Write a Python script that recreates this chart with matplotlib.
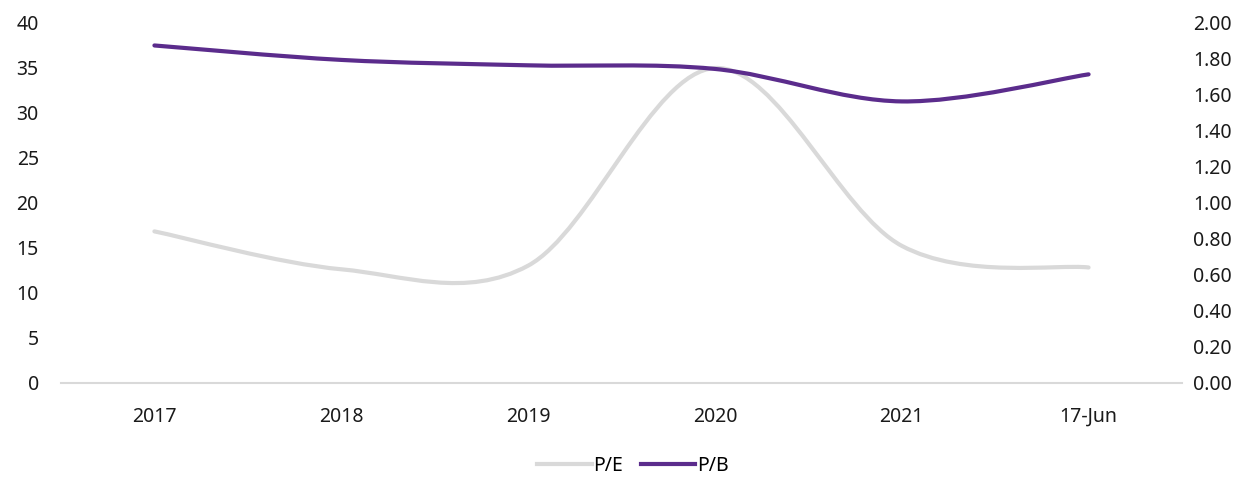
import matplotlib
matplotlib.use("Agg")
import matplotlib.pyplot as plt
from matplotlib.path import Path
from matplotlib.patches import PathPatch
from matplotlib.lines import Line2D
from matplotlib.ticker import MultipleLocator, FormatStrFormatter

categories = ["2017", "2018", "2019", "2020", "2021", "17-Jun"]
pe_values = [16.8, 12.6, 13.0, 34.9, 15.2, 12.8]
pb_values = [1.87, 1.79, 1.76, 1.74, 1.56, 1.71]

PE_COLOR = "#d9d9d9"
PB_COLOR = "#5b2c8c"
TEXT_COLOR = "#1a1a1a"
FONT = ["Noto Sans", "DejaVu Sans"]

plt.rcParams['font.family'] = FONT


def smooth_path(xs, ys):
    # Catmull-Rom style cubic Bezier through data points (like spreadsheet smoothed lines)
    n = len(xs)
    verts = [(xs[0], ys[0])]
    codes = [Path.MOVETO]
    for i in range(n - 1):
        x0, y0 = (xs[i - 1], ys[i - 1]) if i > 0 else (xs[i], ys[i])
        x1, y1 = xs[i], ys[i]
        x2, y2 = xs[i + 1], ys[i + 1]
        x3, y3 = (xs[i + 2], ys[i + 2]) if i + 2 < n else (x2, y2)
        c1 = (x1 + (x2 - x0) / 6.0, y1 + (y2 - y0) / 6.0)
        c2 = (x2 - (x3 - x1) / 6.0, y2 - (y3 - y1) / 6.0)
        verts += [c1, c2, (x2, y2)]
        codes += [Path.CURVE4] * 3
    return Path(verts, codes)


fig = plt.figure(figsize=(12.5, 4.78), dpi=100)
ax = fig.add_axes([61 / 1250, 95 / 478, (1182 - 61) / 1250, (383 - 22) / 478])
ax2 = ax.twinx()

xs = list(range(len(categories)))
ax.add_patch(PathPatch(smooth_path(xs, pe_values), facecolor="none",
                       edgecolor=PE_COLOR, lw=3, capstyle="round", zorder=3))
ax2.add_patch(PathPatch(smooth_path(xs, pb_values), facecolor="none",
                        edgecolor=PB_COLOR, lw=3, capstyle="round", zorder=3))

ax.set_xlim(-0.5, len(categories) - 0.5)
ax.set_ylim(0, 40)
ax2.set_ylim(0, 2.0)
ax.yaxis.set_major_locator(MultipleLocator(5))
ax2.yaxis.set_major_locator(MultipleLocator(0.2))
ax2.yaxis.set_major_formatter(FormatStrFormatter("%.2f"))
ax.set_xticks(xs)
ax.set_xticklabels(categories)

for a in (ax, ax2):
    for s in a.spines.values():
        s.set_visible(False)
    a.tick_params(length=0, labelsize=14, colors=TEXT_COLOR)
ax.spines["bottom"].set_visible(True)
ax.spines["bottom"].set_color("#d9d9d9")
ax.spines["bottom"].set_linewidth(1.5)
ax.tick_params(axis="x", pad=17)
ax.tick_params(axis="y", pad=16)
ax2.tick_params(axis="y", pad=8)

handles = [Line2D([], [], color=PE_COLOR, lw=3), Line2D([], [], color=PB_COLOR, lw=3)]
fig.legend(handles, ["P/E", "P/B"], loc="center", bbox_to_anchor=(633 / 1250, 1 - 466 / 478),
           ncol=2, frameon=False, fontsize=14, handlelength=2.8, handletextpad=0.1,
           columnspacing=0.9)

fig.savefig("out.png", dpi=100)
